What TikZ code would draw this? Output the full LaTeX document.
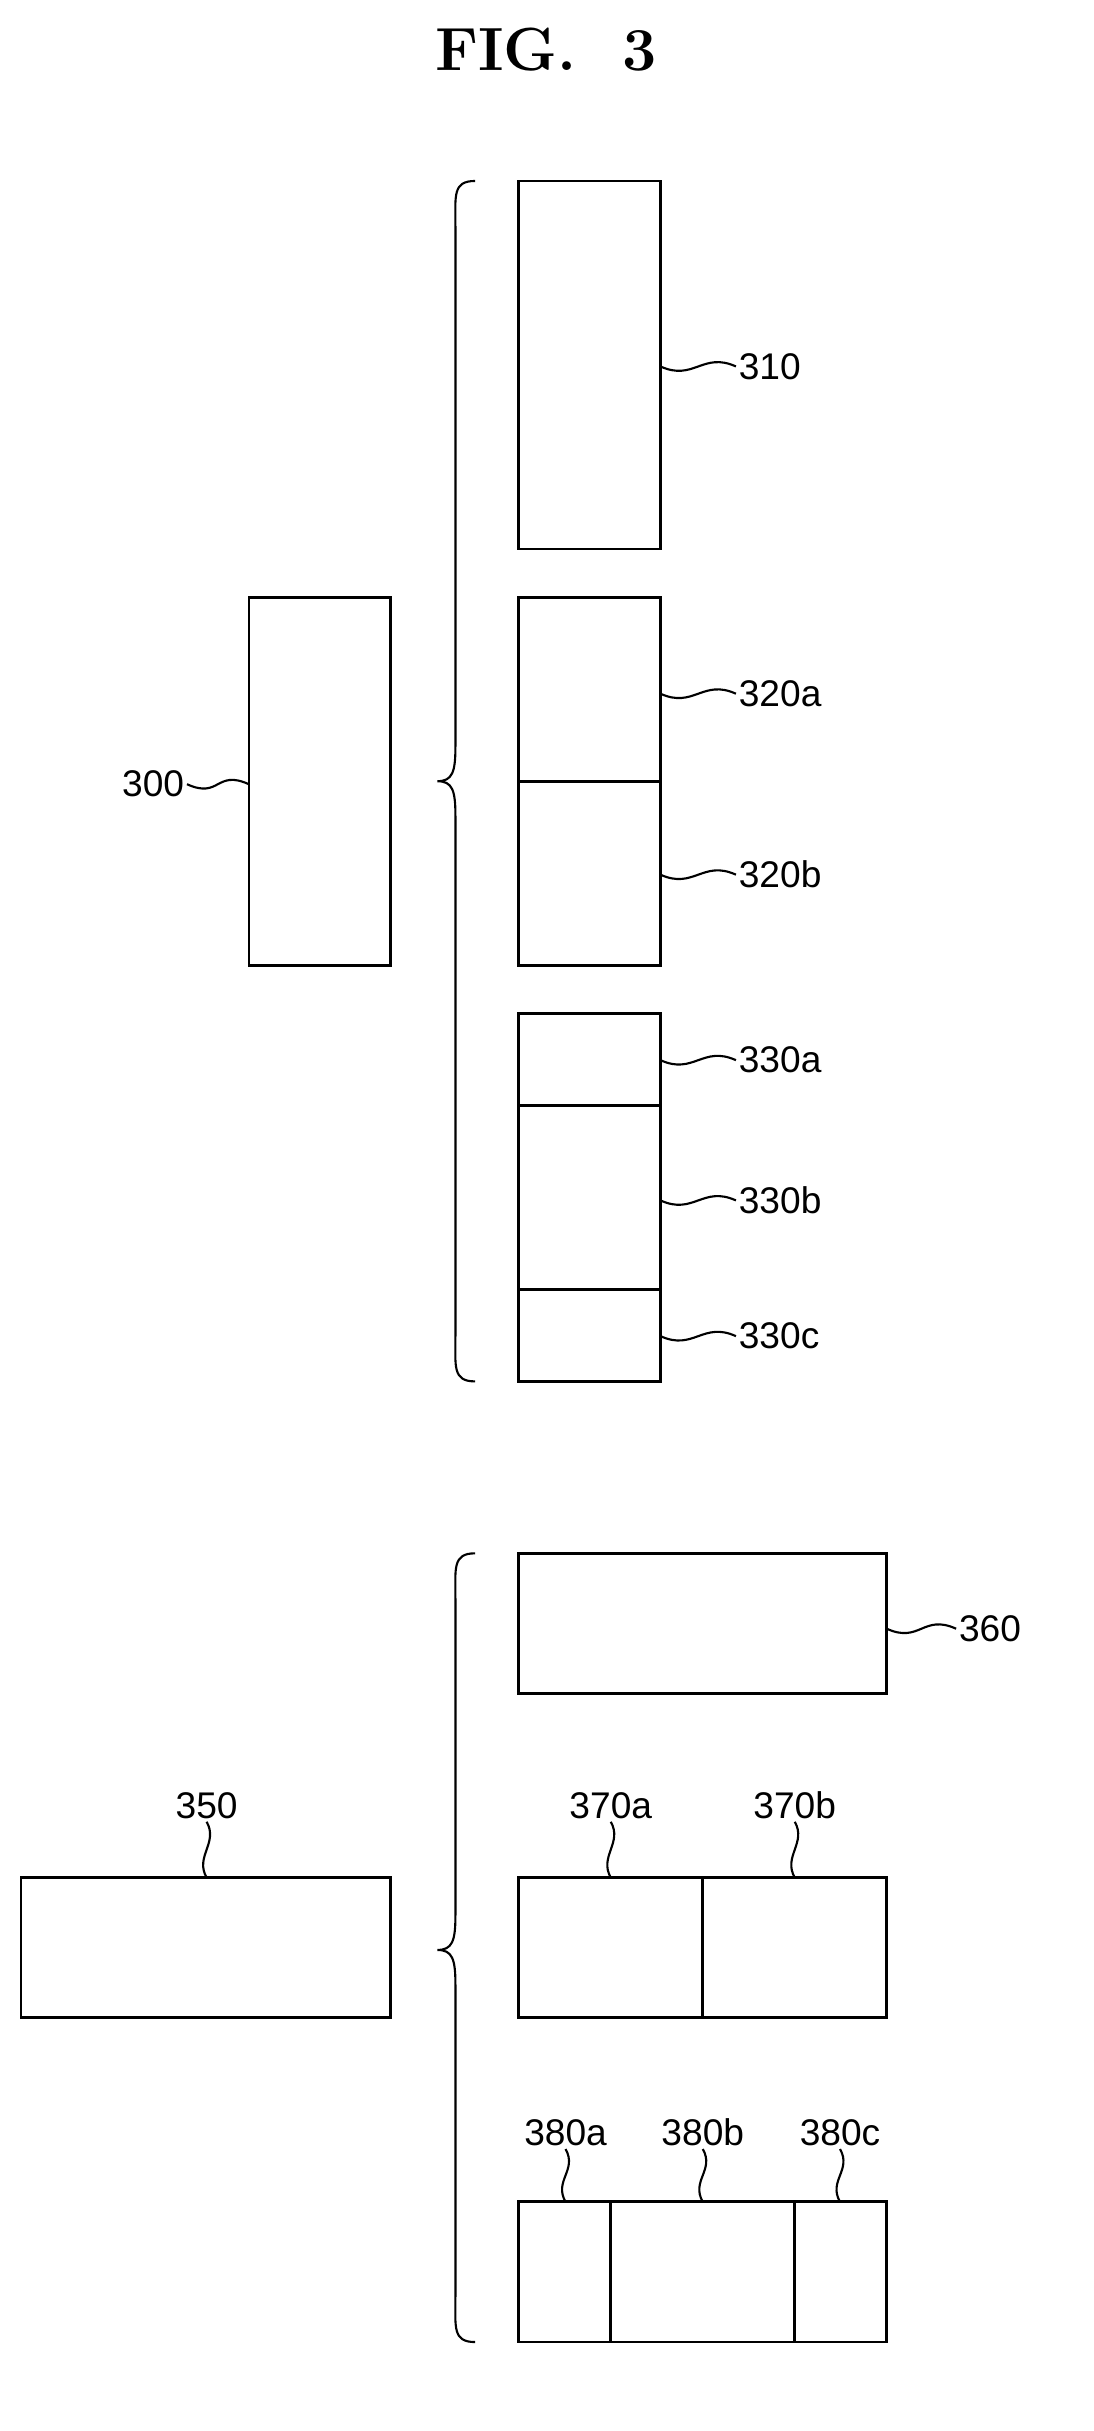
\documentclass[tikz,border=0pt]{standalone}
\usepackage{fontspec}
\setsansfont{Liberation Sans}
\usepackage{tikz}

\tikzset{
  part/.style={draw, line width=2pt, inner sep=0pt},
  lbl/.style={font=\sffamily\fontsize{28}{32}\selectfont, inner sep=2pt},
  lead/.style={line width=1.6pt},
  brc/.style={line width=1.6pt}
}
\newcommand{\wavyH}[2]{\draw[lead] (#1) .. controls +(22,10) and +(-22,-10) .. (#2);}
\newcommand{\wavyV}[2]{\draw[lead] (#1) .. controls +(8,14) and +(-8,-14) .. (#2);}

\begin{document}
\begin{tikzpicture}[x=0.04cm, y=-0.04cm]
\useasboundingbox (0,0) rectangle (725,1612);

\node at (362,33) {\bfseries\fontsize{46}{50}\selectfont FIG.\ \ 3};

% upper group
\draw[part] (344,120) rectangle (438,364);
\draw[part] (344,396) rectangle (438,640);
\draw[part] (344,518) -- (438,518);
\draw[part] (344,672) rectangle (438,916);
\draw[part] (344,733) -- (438,733);
\draw[part] (344,855) -- (438,855);
\draw[part] (165,396) rectangle (259,640);

\draw[brc] (315,120) .. controls (300,120) and (302,130) .. (302,150)
  -- (302,495) .. controls (302,512) and (300,518) .. (290,518)
  .. controls (300,518) and (302,524) .. (302,541)
  -- (302,886) .. controls (302,906) and (300,916) .. (315,916);

\node[lbl, anchor=west] (l310) at (488,243) {310};
\node[lbl, anchor=west] (l320a) at (488,460) {320a};
\node[lbl, anchor=west] (l320b) at (488,580) {320b};
\node[lbl, anchor=west] (l330a) at (488,703) {330a};
\node[lbl, anchor=west] (l330b) at (488,796) {330b};
\node[lbl, anchor=west] (l330c) at (488,886) {330c};
\node[lbl, anchor=east] (l300) at (124,520) {300};
\wavyH{438,243}{l310.west}
\wavyH{438,460}{l320a.west}
\wavyH{438,580}{l320b.west}
\wavyH{438,703}{l330a.west}
\wavyH{438,796}{l330b.west}
\wavyH{438,886}{l330c.west}
\wavyH{l300.east}{165,520}

% lower group
\draw[part] (344,1030) rectangle (588,1123);
\draw[part] (14,1245) rectangle (259,1338);
\draw[part] (344,1245) rectangle (588,1338);
\draw[part] (466,1245) -- (466,1338);
\draw[part] (344,1460) rectangle (588,1553);
\draw[part] (405,1460) -- (405,1553);
\draw[part] (527,1460) -- (527,1553);

\draw[brc] (315,1030) .. controls (300,1030) and (302,1040) .. (302,1060)
  -- (302,1270) .. controls (302,1287) and (300,1293) .. (290,1293)
  .. controls (300,1293) and (302,1299) .. (302,1316)
  -- (302,1523) .. controls (302,1543) and (300,1553) .. (315,1553);

\node[lbl, anchor=west] (l360) at (634,1080) {360};
\wavyH{588,1080}{l360.west}
\node[lbl, anchor=south] (l350) at (137,1208) {350};
\node[lbl, anchor=south] (l370a) at (405,1208) {370a};
\node[lbl, anchor=south] (l370b) at (527,1208) {370b};
\node[lbl, anchor=south] (l380a) at (375,1425) {380a};
\node[lbl, anchor=south] (l380b) at (466,1425) {380b};
\node[lbl, anchor=south] (l380c) at (557,1425) {380c};
\wavyV{l350.south}{137,1245}
\wavyV{l370a.south}{405,1245}
\wavyV{l370b.south}{527,1245}
\wavyV{l380a.south}{375,1460}
\wavyV{l380b.south}{466,1460}
\wavyV{l380c.south}{557,1460}
\end{tikzpicture}
\end{document}
